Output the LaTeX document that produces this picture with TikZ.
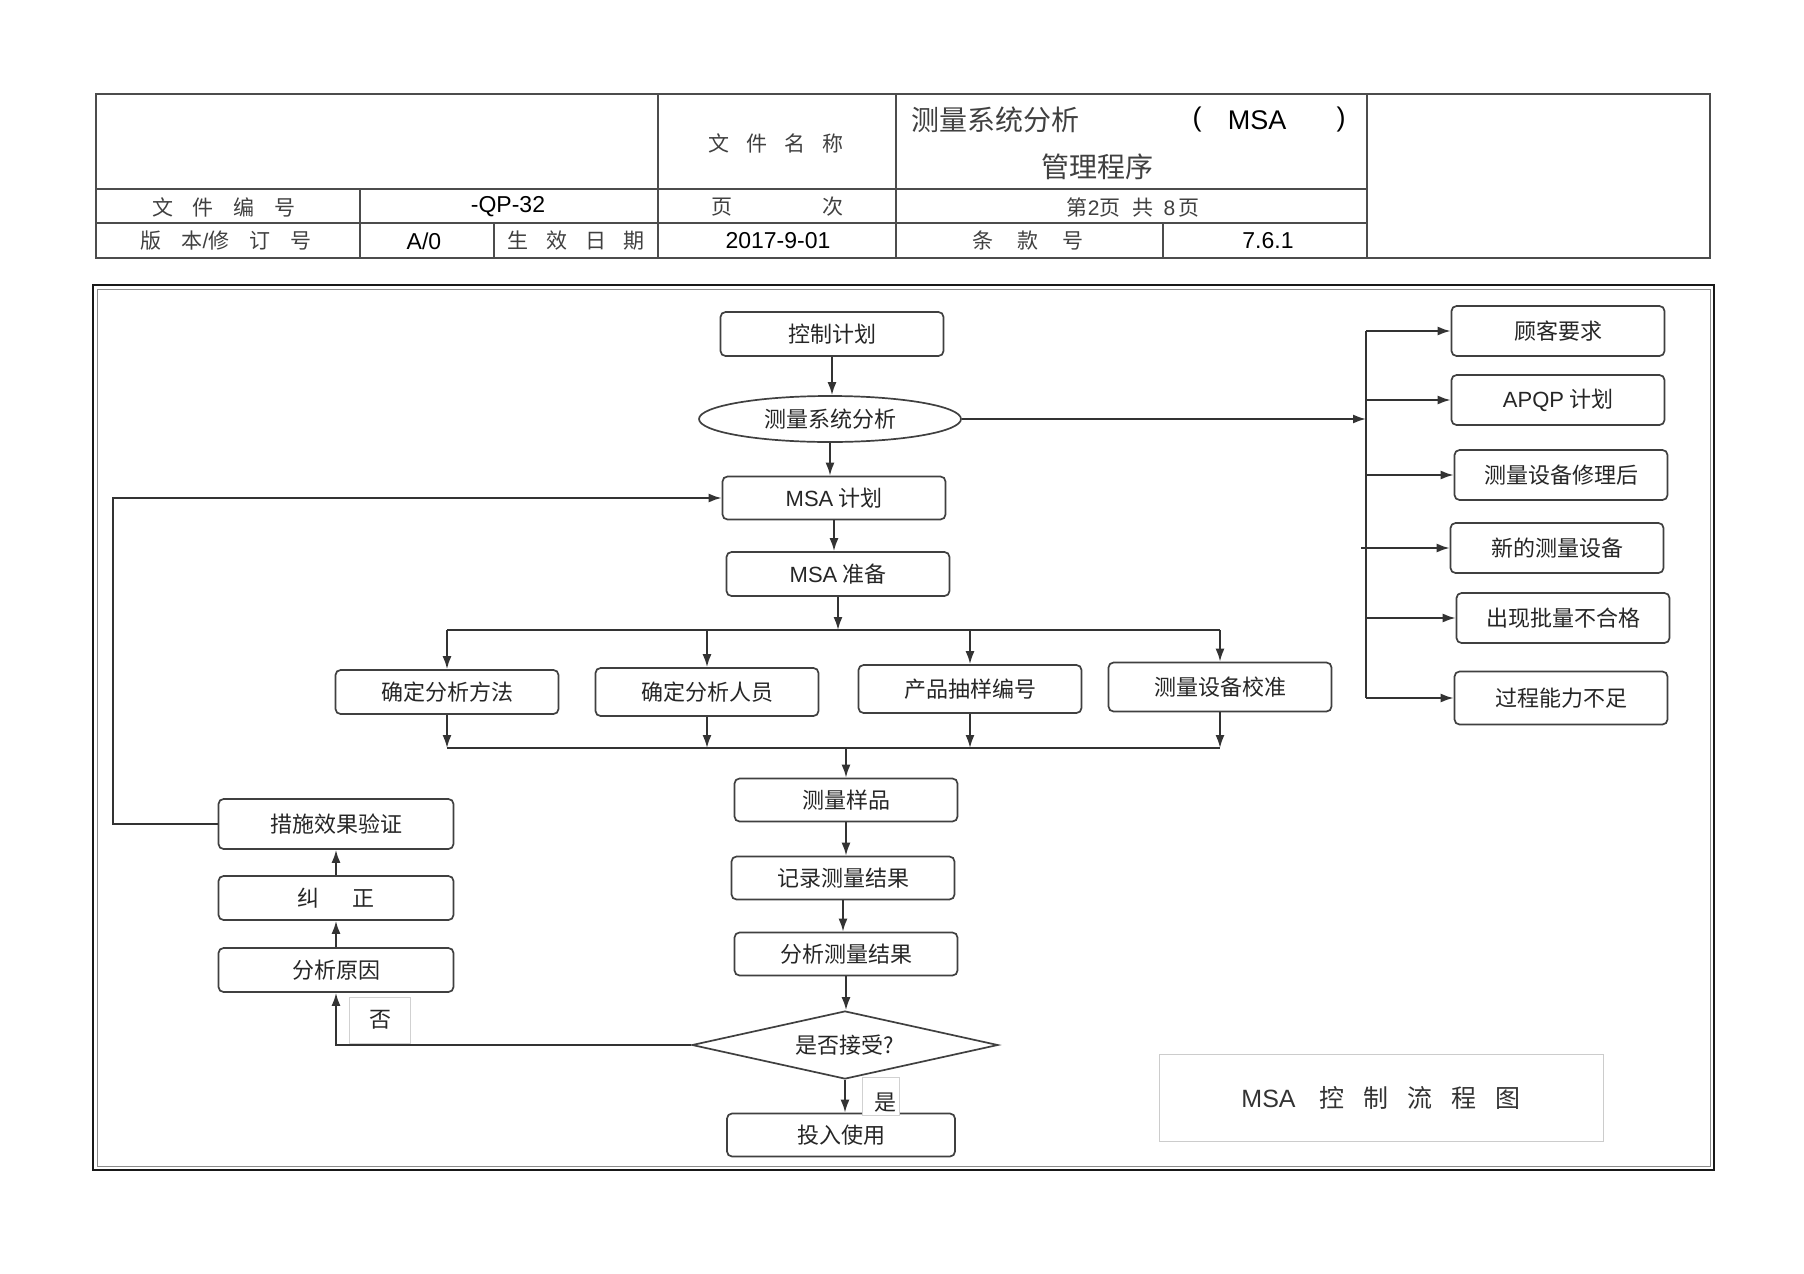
\documentclass[tikz,border=0pt]{standalone}
\usepackage{fontspec}
\setmainfont{Liberation Sans}
\newfontfamily\cjk{Noto Sans CJK SC}
\newfontfamily\latf{Liberation Sans}
\usetikzlibrary{arrows.meta,shapes.geometric}
\newcommand\gp[1]{\hspace*{#1pt}}
\newcommand\lt[1]{{\latf #1}}
\begin{document}
\begin{tikzpicture}[x=1pt,y=-1pt,
  box/.style={draw=black!75, line width=1.7pt, rounded corners=5pt, fill=white,
    minimum width=223pt, minimum height=44pt, inner sep=0pt,
    font=\cjk\fontsize{22}{26}\selectfont, text=black!85},
  rbox/.style={box, minimum width=213pt, minimum height=50pt},
  ell/.style={draw=black!75, line width=1.7pt, ellipse, fill=white,
    minimum width=262pt, minimum height=46pt, inner sep=0pt,
    font=\cjk\fontsize{22}{26}\selectfont, text=black!85},
  dia/.style={draw=black!75, line width=1.7pt, diamond, shape aspect=4.5, fill=white,
    minimum width=306pt, minimum height=68pt, inner sep=0pt,
    font=\cjk\fontsize{22}{26}\selectfont, text=black!85},
  lbl/.style={draw=black!18, line width=0.8pt, fill=white, inner sep=0pt,
    font=\cjk\fontsize{22}{26}\selectfont, text=black!85},
  conn/.style={draw=black!80, line width=1.9pt},
  arr/.style={conn, -{Latex[length=13pt,width=9pt]}},
  tbl/.style={draw=black!70, line width=1.5pt},
  hdr/.style={inner sep=0pt, font=\cjk\fontsize{21}{24}\selectfont, text=black!75},
  hlat/.style={inner sep=0pt, font=\latf\fontsize{23}{26}\selectfont, text=black},
  ttl/.style={draw=black!20, line width=1pt, fill=white, minimum width=444pt,
    minimum height=87pt, inner sep=0pt, font=\cjk\fontsize{25}{28}\selectfont, text=black!80}
]
\useasboundingbox (0,0) rectangle (1804,1274);
\fill[white] (0,0) rectangle (1804,1274);

% ---------------- header table ----------------
\draw[tbl] (96,94) rectangle (1710,258);
\draw[tbl] (96,189) -- (1367,189);
\draw[tbl] (96,223) -- (1367,223);
\draw[tbl] (360,189) -- (360,258);
\draw[tbl] (494,223) -- (494,258);
\draw[tbl] (658,94) -- (658,258);
\draw[tbl] (896,94) -- (896,258);
\draw[tbl] (1163,223) -- (1163,258);
\draw[tbl] (1367,94) -- (1367,258);

\node[hdr] (h1) at (776,143) {文\gp{17}件\gp{17}名\gp{17}称};
\node[hdr, anchor=west, font=\cjk\fontsize{28}{30}\selectfont] (h2) at (911,120) {测量系统分析};
\node[hlat, font=\latf\fontsize{27}{30}\selectfont] (h3) at (1197,120) {(};
\node[hlat, font=\latf\fontsize{27}{30}\selectfont] (h4) at (1257,120) {MSA};
\node[hlat, font=\latf\fontsize{27}{30}\selectfont] (h5) at (1341,120) {)};
\node[hdr, font=\cjk\fontsize{28}{30}\selectfont] (h6) at (1097,167) {管理程序};

\node[hdr] (r21) at (224,207) {文\gp{20}件\gp{20}编\gp{20}号};
\node[hlat] (r22) at (508,207) {-QP-32};
\node[hdr] (r23) at (777,207) {页\gp{90}次};
\node[hdr] (r24) at (1133,207) {第\lt{2}页\gp{12}共\gp{10}\lt{8}\gp{3}页};

\node[hdr] (r31) at (226,241) {版\gp{20}本\lt{/}修\gp{20}订\gp{20}号};
\node[hlat] (r32) at (424,241) {A/0};
\node[hdr] (r33) at (576,241) {生\gp{18}效\gp{18}日\gp{18}期};
\node[hlat] (r34) at (778,241) {2017-9-01};
\node[hdr] (r35) at (1028,241) {条\gp{24}款\gp{24}号};
\node[hlat] (r36) at (1268,241) {7.6.1};

% ---------------- frame ----------------
\draw[line width=2.5pt, black!90] (93,285) rectangle (1714,1170);
\draw[line width=0.9pt, black!45] (97,289) rectangle (1710,1166);

% ---------------- main column ----------------
\node[box] (kz) at (832,334) {控制计划};
\node[ell] (cl) at (830,419) {测量系统分析};
\node[box, minimum height=43pt] (mp) at (834,498) {\lt{MSA} 计划};
\node[box] (mz) at (838,574) {\lt{MSA} 准备};

\node[box] (b1) at (447,692) {确定分析方法};
\node[box, minimum height=48pt] (b2) at (707,692) {确定分析人员};
\node[box, minimum height=48pt] (b3) at (970,689) {产品抽样编号};
\node[box, minimum height=49pt] (b4) at (1220,687) {测量设备校准};

\node[box, minimum height=43pt] (cy) at (846,800) {测量样品};
\node[box, minimum height=43pt] (jl) at (843,878) {记录测量结果};
\node[box, minimum height=43pt] (fx) at (846,954) {分析测量结果};
\node[dia] (js) at (845,1045) {是否接受?};
\node[box, minimum width=228pt, minimum height=43pt] (tr) at (841,1135) {投入使用};

% left column
\node[box, minimum width=235pt, minimum height=44pt] (fy) at (336,970) {分析原因};
\node[box, minimum width=235pt, minimum height=44pt] (jz) at (336,898) {纠\gp{34}正};
\node[box, minimum width=235pt, minimum height=50pt] (cs) at (336,824) {措施效果验证};

% right column
\node[rbox] (q1) at (1558,331) {顾客要求};
\node[rbox] (q2) at (1558,400) {\lt{APQP} 计划};
\node[rbox] (q3) at (1561,475) {测量设备修理后};
\node[rbox] (q4) at (1557,548) {新的测量设备};
\node[rbox] (q5) at (1563,618) {出现批量不合格};
\node[rbox, minimum height=53pt] (q6) at (1561,698) {过程能力不足};

% ---------------- connectors ----------------
\draw[arr] (kz.south) -- (kz.south |- cl.north);
\draw[arr] (cl.south) -- (cl.south |- mp.north);
\draw[arr] (mp.south) -- (mp.south |- mz.north);

\coordinate (sp) at (838,630);
\draw[arr] (mz.south) -- (mz.south |- sp);
\draw[conn] (b1.north |- sp) -- (b4.north |- sp);
\foreach \b in {b1,b2,b3,b4} \draw[arr] (\b.north |- sp) -- (\b.north);

\coordinate (mg) at (846,748);
\foreach \b in {b1,b2,b3,b4} \draw[arr] (\b.south) -- (\b.south |- mg);
\draw[conn] (b1.south |- mg) -- (b4.south |- mg);
\draw[arr] (mg) -- (cy.north);

\draw[arr] (cy.south) -- (cy.south |- jl.north);
\draw[arr] (jl.south) -- (jl.south |- fx.north);
\draw[arr] (fx.south) -- (fx.south |- js.north);
\draw[arr] (js.south) -- (js.south |- tr.north);

\draw[arr] (js.west) -| (fy.south);
\draw[arr] (fy.north) -- (jz.south);
\draw[arr] (jz.north) -- (cs.south);
\draw[arr] (cs.west) -- ++(-105,0) |- (mp.west);

% right bus
\coordinate (bus) at (1366,419);
\draw[arr] (cl.east) -- (bus);
\draw[conn] (bus |- q1.west) -- (bus |- q6.west);
\foreach \q in {q1,q2,q3,q5,q6} \draw[arr] (bus |- \q.west) -- (\q.west);
\draw[arr] ([xshift=-5pt]bus |- q4.west) -- (q4.west);

% labels
\node[lbl, minimum width=61pt, minimum height=46pt] (no) at (380,1020) {否};
\node[lbl, anchor=north west, text width=31pt, align=right, inner xsep=3pt,
      inner ysep=2pt, text height=31pt, text depth=3pt] (yes) at (862,1077) {是};

% title
\node[ttl] (tt) at (1381,1098) {\lt{MSA}\gp{24}控\gp{19}制\gp{19}流\gp{19}程\gp{19}图};
\end{tikzpicture}
\end{document}
